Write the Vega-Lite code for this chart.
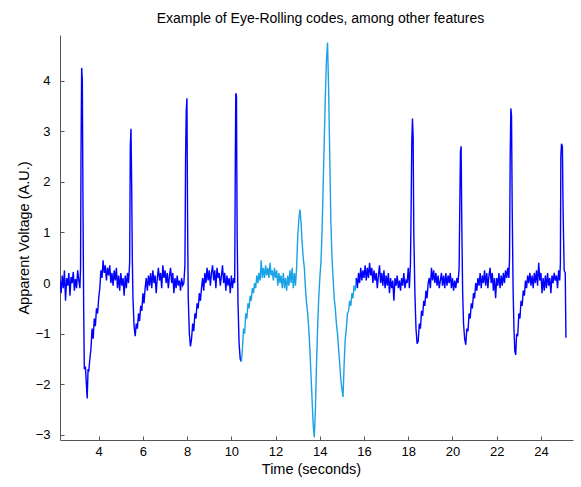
{
"$schema": "https://vega.github.io/schema/vega-lite/v6.json",
"width": 513, "height": 405,
"autosize": {"type": "none"},
"padding": {"left": 60, "top": 35, "right": 8, "bottom": 47},
"background": "white",
"title": {"text": "Example of Eye-Rolling codes, among other features", "fontSize": 14, "fontWeight": "normal", "font": "Liberation Sans", "color": "#000", "offset": 9, "dx": 4},
"config": {
"view": {"stroke": null},
"axis": {"grid": false, "domainColor": "#555", "tickColor": "#555", "tickSize": -4, "labelColor": "#000", "labelFont": "Liberation Sans", "labelFontSize": 13, "titleFont": "Liberation Sans", "titleFontSize": 14.5, "titleFontWeight": "normal", "titleColor": "#000"}
},
"data": {"values": [
{"t":2.25,"v":0.05,"s":"A"},{"t":2.3,"v":-0.2,"s":"A"},{"t":2.35,"v":0.15,"s":"A"},{"t":2.4,"v":-0.1,"s":"A"},{"t":2.45,"v":0.25,"s":"A"},{"t":2.5,"v":-0.35,"s":"A"},{"t":2.55,"v":0.1,"s":"A"},{"t":2.6,"v":-0.05,"s":"A"},{"t":2.65,"v":0.2,"s":"A"},{"t":2.7,"v":-0.25,"s":"A"},{"t":2.75,"v":0.12,"s":"A"},{"t":2.8,"v":0.0,"s":"A"},{"t":2.85,"v":0.22,"s":"A"},{"t":2.9,"v":-0.15,"s":"A"},{"t":2.95,"v":0.08,"s":"A"},{"t":3.0,"v":-0.1,"s":"A"},{"t":3.05,"v":0.25,"s":"A"},{"t":3.1,"v":0.05,"s":"A"},{"t":3.15,"v":-0.1,"s":"A"},{"t":3.18,"v":0.3,"s":"A"},{"t":3.2,"v":2.5,"s":"A"},{"t":3.23,"v":4.25,"s":"A"},{"t":3.26,"v":4.0,"s":"A"},{"t":3.29,"v":1.5,"s":"A"},{"t":3.32,"v":-0.45,"s":"A"},{"t":3.35,"v":-1.7,"s":"A"},{"t":3.4,"v":-1.65,"s":"A"},{"t":3.45,"v":-2.05,"s":"A"},{"t":3.48,"v":-2.28,"s":"A"},{"t":3.52,"v":-1.7,"s":"A"},{"t":3.55,"v":-1.75,"s":"A"},{"t":3.6,"v":-1.5,"s":"A"},{"t":3.65,"v":-1.3,"s":"A"},{"t":3.7,"v":-0.9,"s":"A"},{"t":3.75,"v":-1.1,"s":"A"},{"t":3.8,"v":-0.7,"s":"A"},{"t":3.85,"v":-0.85,"s":"A"},{"t":3.9,"v":-0.5,"s":"A"},{"t":3.95,"v":-0.6,"s":"A"},{"t":4.0,"v":-0.3,"s":"A"},{"t":4.05,"v":-0.1,"s":"A"},{"t":4.1,"v":0.25,"s":"A"},{"t":4.15,"v":0.1,"s":"A"},{"t":4.2,"v":0.45,"s":"A"},{"t":4.25,"v":0.2,"s":"A"},{"t":4.3,"v":0.35,"s":"A"},{"t":4.35,"v":0.05,"s":"A"},{"t":4.4,"v":0.3,"s":"A"},{"t":4.45,"v":0.15,"s":"A"},{"t":4.5,"v":0.35,"s":"A"},{"t":4.55,"v":0.0,"s":"A"},{"t":4.6,"v":0.2,"s":"A"},{"t":4.65,"v":-0.05,"s":"A"},{"t":4.7,"v":0.25,"s":"A"},{"t":4.75,"v":0.05,"s":"A"},{"t":4.8,"v":0.3,"s":"A"},{"t":4.85,"v":-0.1,"s":"A"},{"t":4.9,"v":0.15,"s":"A"},{"t":4.95,"v":-0.15,"s":"A"},{"t":5.0,"v":0.2,"s":"A"},{"t":5.05,"v":-0.05,"s":"A"},{"t":5.1,"v":0.1,"s":"A"},{"t":5.15,"v":-0.25,"s":"A"},{"t":5.2,"v":0.15,"s":"A"},{"t":5.25,"v":-0.1,"s":"A"},{"t":5.3,"v":0.2,"s":"A"},{"t":5.35,"v":0.0,"s":"A"},{"t":5.4,"v":0.4,"s":"A"},{"t":5.43,"v":2.7,"s":"A"},{"t":5.46,"v":3.05,"s":"A"},{"t":5.49,"v":2.0,"s":"A"},{"t":5.52,"v":0.5,"s":"A"},{"t":5.55,"v":-0.3,"s":"A"},{"t":5.6,"v":-0.85,"s":"A"},{"t":5.65,"v":-1.05,"s":"A"},{"t":5.7,"v":-0.8,"s":"A"},{"t":5.75,"v":-0.9,"s":"A"},{"t":5.8,"v":-0.6,"s":"A"},{"t":5.85,"v":-0.75,"s":"A"},{"t":5.9,"v":-0.45,"s":"A"},{"t":5.95,"v":-0.55,"s":"A"},{"t":6.0,"v":-0.2,"s":"A"},{"t":6.05,"v":-0.4,"s":"A"},{"t":6.1,"v":-0.1,"s":"A"},{"t":6.15,"v":0.1,"s":"A"},{"t":6.2,"v":-0.15,"s":"A"},{"t":6.25,"v":0.15,"s":"A"},{"t":6.3,"v":-0.05,"s":"A"},{"t":6.35,"v":0.2,"s":"A"},{"t":6.4,"v":-0.1,"s":"A"},{"t":6.45,"v":0.25,"s":"A"},{"t":6.5,"v":0.0,"s":"A"},{"t":6.55,"v":0.15,"s":"A"},{"t":6.6,"v":-0.2,"s":"A"},{"t":6.65,"v":0.1,"s":"A"},{"t":6.7,"v":0.3,"s":"A"},{"t":6.75,"v":0.05,"s":"A"},{"t":6.8,"v":0.2,"s":"A"},{"t":6.85,"v":-0.1,"s":"A"},{"t":6.9,"v":0.35,"s":"A"},{"t":6.95,"v":0.1,"s":"A"},{"t":7.0,"v":0.25,"s":"A"},{"t":7.05,"v":0.0,"s":"A"},{"t":7.1,"v":0.2,"s":"A"},{"t":7.15,"v":-0.1,"s":"A"},{"t":7.2,"v":0.15,"s":"A"},{"t":7.25,"v":0.3,"s":"A"},{"t":7.3,"v":0.0,"s":"A"},{"t":7.35,"v":0.2,"s":"A"},{"t":7.4,"v":-0.2,"s":"A"},{"t":7.45,"v":0.1,"s":"A"},{"t":7.5,"v":-0.1,"s":"A"},{"t":7.55,"v":0.15,"s":"A"},{"t":7.6,"v":-0.05,"s":"A"},{"t":7.65,"v":0.05,"s":"A"},{"t":7.7,"v":-0.15,"s":"A"},{"t":7.75,"v":0.1,"s":"A"},{"t":7.8,"v":-0.05,"s":"A"},{"t":7.85,"v":0.0,"s":"A"},{"t":7.9,"v":0.35,"s":"A"},{"t":7.93,"v":2.5,"s":"A"},{"t":7.96,"v":3.4,"s":"A"},{"t":7.99,"v":3.65,"s":"A"},{"t":8.02,"v":1.2,"s":"A"},{"t":8.05,"v":-0.3,"s":"A"},{"t":8.1,"v":-1.0,"s":"A"},{"t":8.15,"v":-1.25,"s":"A"},{"t":8.2,"v":-1.1,"s":"A"},{"t":8.25,"v":-0.8,"s":"A"},{"t":8.3,"v":-0.95,"s":"A"},{"t":8.35,"v":-0.6,"s":"A"},{"t":8.4,"v":-0.7,"s":"A"},{"t":8.45,"v":-0.4,"s":"A"},{"t":8.5,"v":-0.5,"s":"A"},{"t":8.55,"v":-0.2,"s":"A"},{"t":8.6,"v":-0.35,"s":"A"},{"t":8.65,"v":-0.1,"s":"A"},{"t":8.7,"v":0.1,"s":"A"},{"t":8.75,"v":-0.15,"s":"A"},{"t":8.8,"v":0.2,"s":"A"},{"t":8.85,"v":0.0,"s":"A"},{"t":8.9,"v":0.3,"s":"A"},{"t":8.95,"v":0.05,"s":"A"},{"t":9.0,"v":0.25,"s":"A"},{"t":9.05,"v":-0.05,"s":"A"},{"t":9.1,"v":0.2,"s":"A"},{"t":9.15,"v":0.35,"s":"A"},{"t":9.2,"v":0.05,"s":"A"},{"t":9.25,"v":0.25,"s":"A"},{"t":9.3,"v":-0.1,"s":"A"},{"t":9.35,"v":0.3,"s":"A"},{"t":9.4,"v":0.1,"s":"A"},{"t":9.45,"v":0.2,"s":"A"},{"t":9.5,"v":-0.05,"s":"A"},{"t":9.55,"v":0.15,"s":"A"},{"t":9.6,"v":0.35,"s":"A"},{"t":9.65,"v":0.0,"s":"A"},{"t":9.7,"v":0.2,"s":"A"},{"t":9.75,"v":-0.15,"s":"A"},{"t":9.8,"v":0.15,"s":"A"},{"t":9.85,"v":-0.05,"s":"A"},{"t":9.9,"v":0.1,"s":"A"},{"t":9.95,"v":-0.2,"s":"A"},{"t":10.0,"v":0.15,"s":"A"},{"t":10.05,"v":-0.1,"s":"A"},{"t":10.1,"v":0.1,"s":"A"},{"t":10.15,"v":0.0,"s":"A"},{"t":10.18,"v":2.5,"s":"A"},{"t":10.2,"v":3.75,"s":"A"},{"t":10.23,"v":3.7,"s":"A"},{"t":10.26,"v":1.0,"s":"A"},{"t":10.3,"v":-0.4,"s":"A"},{"t":10.35,"v":-1.2,"s":"A"},{"t":10.4,"v":-1.5,"s":"A"},{"t":10.45,"v":-1.55,"s":"A"},
{"t":10.45,"v":-1.55,"s":"B"},{"t":10.5,"v":-1.3,"s":"B"},{"t":10.55,"v":-0.9,"s":"B"},{"t":10.6,"v":-1.0,"s":"B"},{"t":10.65,"v":-0.6,"s":"B"},{"t":10.7,"v":-0.7,"s":"B"},{"t":10.75,"v":-0.4,"s":"B"},{"t":10.8,"v":-0.5,"s":"B"},{"t":10.85,"v":-0.25,"s":"B"},{"t":10.9,"v":-0.35,"s":"B"},{"t":10.95,"v":-0.1,"s":"B"},{"t":11.0,"v":-0.2,"s":"B"},{"t":11.05,"v":0.0,"s":"B"},{"t":11.1,"v":-0.1,"s":"B"},{"t":11.15,"v":0.15,"s":"B"},{"t":11.2,"v":0.0,"s":"B"},{"t":11.25,"v":0.2,"s":"B"},{"t":11.3,"v":0.05,"s":"B"},{"t":11.35,"v":0.45,"s":"B"},{"t":11.4,"v":0.1,"s":"B"},{"t":11.45,"v":0.3,"s":"B"},{"t":11.5,"v":0.1,"s":"B"},{"t":11.55,"v":0.35,"s":"B"},{"t":11.6,"v":0.15,"s":"B"},{"t":11.65,"v":0.3,"s":"B"},{"t":11.7,"v":0.1,"s":"B"},{"t":11.75,"v":0.4,"s":"B"},{"t":11.8,"v":0.15,"s":"B"},{"t":11.85,"v":0.25,"s":"B"},{"t":11.9,"v":0.05,"s":"B"},{"t":11.95,"v":0.3,"s":"B"},{"t":12.0,"v":0.1,"s":"B"},{"t":12.05,"v":0.25,"s":"B"},{"t":12.1,"v":-0.05,"s":"B"},{"t":12.15,"v":0.2,"s":"B"},{"t":12.2,"v":0.0,"s":"B"},{"t":12.25,"v":0.15,"s":"B"},{"t":12.3,"v":-0.1,"s":"B"},{"t":12.35,"v":0.2,"s":"B"},{"t":12.4,"v":-0.1,"s":"B"},{"t":12.45,"v":0.1,"s":"B"},{"t":12.5,"v":-0.15,"s":"B"},{"t":12.55,"v":0.15,"s":"B"},{"t":12.6,"v":-0.05,"s":"B"},{"t":12.65,"v":0.25,"s":"B"},{"t":12.7,"v":0.0,"s":"B"},{"t":12.75,"v":0.3,"s":"B"},{"t":12.8,"v":-0.1,"s":"B"},{"t":12.85,"v":0.2,"s":"B"},{"t":12.9,"v":-0.05,"s":"B"},{"t":12.95,"v":0.3,"s":"B"},{"t":13.0,"v":0.9,"s":"B"},{"t":13.05,"v":1.25,"s":"B"},{"t":13.1,"v":1.45,"s":"B"},{"t":13.15,"v":1.2,"s":"B"},{"t":13.2,"v":0.8,"s":"B"},{"t":13.25,"v":0.5,"s":"B"},{"t":13.3,"v":0.3,"s":"B"},{"t":13.35,"v":-0.1,"s":"B"},{"t":13.4,"v":-0.4,"s":"B"},{"t":13.45,"v":-0.6,"s":"B"},{"t":13.5,"v":-0.9,"s":"B"},{"t":13.55,"v":-1.3,"s":"B"},{"t":13.6,"v":-1.8,"s":"B"},{"t":13.65,"v":-2.3,"s":"B"},{"t":13.7,"v":-2.8,"s":"B"},{"t":13.75,"v":-3.05,"s":"B"},{"t":13.8,"v":-2.5,"s":"B"},{"t":13.85,"v":-1.6,"s":"B"},{"t":13.9,"v":-0.9,"s":"B"},{"t":13.95,"v":-0.3,"s":"B"},{"t":14.0,"v":0.1,"s":"B"},{"t":14.05,"v":0.4,"s":"B"},{"t":14.1,"v":1.0,"s":"B"},{"t":14.15,"v":1.9,"s":"B"},{"t":14.2,"v":2.8,"s":"B"},{"t":14.25,"v":3.7,"s":"B"},{"t":14.3,"v":4.4,"s":"B"},{"t":14.35,"v":4.75,"s":"B"},{"t":14.4,"v":3.8,"s":"B"},{"t":14.45,"v":2.5,"s":"B"},{"t":14.5,"v":1.2,"s":"B"},{"t":14.55,"v":0.5,"s":"B"},{"t":14.6,"v":0.1,"s":"B"},{"t":14.65,"v":-0.3,"s":"B"},{"t":14.7,"v":-0.5,"s":"B"},{"t":14.75,"v":-0.8,"s":"B"},{"t":14.8,"v":-1.0,"s":"B"},{"t":14.85,"v":-1.3,"s":"B"},{"t":14.9,"v":-1.6,"s":"B"},{"t":14.95,"v":-1.9,"s":"B"},{"t":15.0,"v":-2.1,"s":"B"},{"t":15.05,"v":-2.25,"s":"B"},{"t":15.1,"v":-1.6,"s":"B"},{"t":15.15,"v":-1.1,"s":"B"},{"t":15.2,"v":-0.9,"s":"B"},{"t":15.25,"v":-0.6,"s":"B"},{"t":15.3,"v":-0.55,"s":"B"},{"t":15.35,"v":-0.35,"s":"B"},{"t":15.4,"v":-0.45,"s":"B"},{"t":15.45,"v":-0.2,"s":"B"},{"t":15.5,"v":-0.3,"s":"B"},{"t":15.55,"v":-0.05,"s":"B"},{"t":15.6,"v":-0.15,"s":"B"},{"t":15.65,"v":0.1,"s":"B"},
{"t":15.65,"v":0.1,"s":"C"},{"t":15.7,"v":-0.1,"s":"C"},{"t":15.75,"v":0.2,"s":"C"},{"t":15.8,"v":0.0,"s":"C"},{"t":15.85,"v":0.3,"s":"C"},{"t":15.9,"v":0.05,"s":"C"},{"t":15.95,"v":0.25,"s":"C"},{"t":16.0,"v":0.1,"s":"C"},{"t":16.05,"v":0.35,"s":"C"},{"t":16.1,"v":0.05,"s":"C"},{"t":16.15,"v":0.3,"s":"C"},{"t":16.2,"v":0.1,"s":"C"},{"t":16.25,"v":0.4,"s":"C"},{"t":16.3,"v":0.15,"s":"C"},{"t":16.35,"v":0.3,"s":"C"},{"t":16.4,"v":0.0,"s":"C"},{"t":16.45,"v":0.25,"s":"C"},{"t":16.5,"v":0.05,"s":"C"},{"t":16.55,"v":0.2,"s":"C"},{"t":16.6,"v":-0.1,"s":"C"},{"t":16.65,"v":0.15,"s":"C"},{"t":16.7,"v":0.35,"s":"C"},{"t":16.75,"v":0.0,"s":"C"},{"t":16.8,"v":0.2,"s":"C"},{"t":16.85,"v":-0.05,"s":"C"},{"t":16.9,"v":0.25,"s":"C"},{"t":16.95,"v":-0.1,"s":"C"},{"t":17.0,"v":0.15,"s":"C"},{"t":17.05,"v":-0.05,"s":"C"},{"t":17.1,"v":0.2,"s":"C"},{"t":17.15,"v":-0.2,"s":"C"},{"t":17.2,"v":0.1,"s":"C"},{"t":17.25,"v":-0.1,"s":"C"},{"t":17.3,"v":0.05,"s":"C"},{"t":17.35,"v":-0.35,"s":"C"},{"t":17.4,"v":0.1,"s":"C"},{"t":17.45,"v":-0.05,"s":"C"},{"t":17.5,"v":0.15,"s":"C"},{"t":17.55,"v":-0.1,"s":"C"},{"t":17.6,"v":0.05,"s":"C"},{"t":17.65,"v":-0.15,"s":"C"},{"t":17.7,"v":0.1,"s":"C"},{"t":17.75,"v":-0.05,"s":"C"},{"t":17.8,"v":0.2,"s":"C"},{"t":17.85,"v":-0.1,"s":"C"},{"t":17.9,"v":0.05,"s":"C"},{"t":17.95,"v":0.0,"s":"C"},{"t":18.0,"v":0.3,"s":"C"},{"t":18.05,"v":-0.1,"s":"C"},{"t":18.1,"v":0.4,"s":"C"},{"t":18.13,"v":1.5,"s":"C"},{"t":18.16,"v":2.8,"s":"C"},{"t":18.19,"v":3.25,"s":"C"},{"t":18.22,"v":2.9,"s":"C"},{"t":18.25,"v":1.0,"s":"C"},{"t":18.3,"v":-0.2,"s":"C"},{"t":18.35,"v":-0.9,"s":"C"},{"t":18.4,"v":-1.2,"s":"C"},{"t":18.45,"v":-1.15,"s":"C"},{"t":18.5,"v":-0.8,"s":"C"},{"t":18.55,"v":-0.9,"s":"C"},{"t":18.6,"v":-0.55,"s":"C"},{"t":18.65,"v":-0.65,"s":"C"},{"t":18.7,"v":-0.35,"s":"C"},{"t":18.75,"v":-0.45,"s":"C"},{"t":18.8,"v":-0.15,"s":"C"},{"t":18.85,"v":-0.3,"s":"C"},{"t":18.9,"v":0.0,"s":"C"},{"t":18.95,"v":0.1,"s":"C"},{"t":19.0,"v":-0.1,"s":"C"},{"t":19.05,"v":0.3,"s":"C"},{"t":19.1,"v":0.05,"s":"C"},{"t":19.15,"v":0.25,"s":"C"},{"t":19.2,"v":0.0,"s":"C"},{"t":19.25,"v":0.2,"s":"C"},{"t":19.3,"v":-0.05,"s":"C"},{"t":19.35,"v":0.15,"s":"C"},{"t":19.4,"v":-0.1,"s":"C"},{"t":19.45,"v":0.05,"s":"C"},{"t":19.5,"v":0.2,"s":"C"},{"t":19.55,"v":-0.05,"s":"C"},{"t":19.6,"v":0.15,"s":"C"},{"t":19.65,"v":-0.1,"s":"C"},{"t":19.7,"v":0.2,"s":"C"},{"t":19.75,"v":-0.05,"s":"C"},{"t":19.8,"v":0.15,"s":"C"},{"t":19.85,"v":0.0,"s":"C"},{"t":19.9,"v":0.2,"s":"C"},{"t":19.95,"v":-0.1,"s":"C"},{"t":20.0,"v":0.1,"s":"C"},{"t":20.05,"v":-0.15,"s":"C"},{"t":20.1,"v":0.05,"s":"C"},{"t":20.15,"v":-0.1,"s":"C"},{"t":20.2,"v":0.1,"s":"C"},{"t":20.25,"v":0.0,"s":"C"},{"t":20.3,"v":0.3,"s":"C"},{"t":20.33,"v":1.5,"s":"C"},{"t":20.36,"v":2.6,"s":"C"},{"t":20.39,"v":2.7,"s":"C"},{"t":20.42,"v":1.2,"s":"C"},{"t":20.46,"v":-0.2,"s":"C"},{"t":20.5,"v":-0.8,"s":"C"},{"t":20.55,"v":-1.1,"s":"C"},{"t":20.6,"v":-1.22,"s":"C"},{"t":20.65,"v":-0.9,"s":"C"},{"t":20.7,"v":-0.95,"s":"C"},{"t":20.75,"v":-0.6,"s":"C"},{"t":20.8,"v":-0.7,"s":"C"},{"t":20.85,"v":-0.4,"s":"C"},{"t":20.9,"v":-0.5,"s":"C"},{"t":20.95,"v":-0.2,"s":"C"},{"t":21.0,"v":-0.3,"s":"C"},{"t":21.05,"v":0.0,"s":"C"},{"t":21.1,"v":-0.15,"s":"C"},{"t":21.15,"v":0.1,"s":"C"},{"t":21.2,"v":-0.05,"s":"C"},{"t":21.25,"v":0.2,"s":"C"},{"t":21.3,"v":-0.1,"s":"C"},{"t":21.35,"v":0.15,"s":"C"},{"t":21.4,"v":0.0,"s":"C"},{"t":21.45,"v":0.25,"s":"C"},{"t":21.5,"v":-0.05,"s":"C"},{"t":21.55,"v":0.2,"s":"C"},{"t":21.6,"v":-0.1,"s":"C"},{"t":21.65,"v":0.15,"s":"C"},{"t":21.7,"v":0.3,"s":"C"},{"t":21.75,"v":0.0,"s":"C"},{"t":21.8,"v":0.2,"s":"C"},{"t":21.85,"v":-0.15,"s":"C"},{"t":21.9,"v":0.1,"s":"C"},{"t":21.95,"v":-0.3,"s":"C"},{"t":22.0,"v":0.1,"s":"C"},{"t":22.05,"v":-0.05,"s":"C"},{"t":22.1,"v":0.2,"s":"C"},{"t":22.15,"v":-0.1,"s":"C"},{"t":22.2,"v":0.15,"s":"C"},{"t":22.25,"v":-0.05,"s":"C"},{"t":22.3,"v":0.2,"s":"C"},{"t":22.35,"v":0.0,"s":"C"},{"t":22.4,"v":0.25,"s":"C"},{"t":22.45,"v":0.1,"s":"C"},{"t":22.5,"v":0.3,"s":"C"},{"t":22.55,"v":0.1,"s":"C"},{"t":22.58,"v":0.5,"s":"C"},{"t":22.61,"v":2.5,"s":"C"},{"t":22.64,"v":3.45,"s":"C"},{"t":22.67,"v":3.3,"s":"C"},{"t":22.7,"v":1.5,"s":"C"},{"t":22.74,"v":-0.1,"s":"C"},{"t":22.78,"v":-0.9,"s":"C"},{"t":22.82,"v":-1.35,"s":"C"},{"t":22.86,"v":-1.42,"s":"C"},{"t":22.9,"v":-1.0,"s":"C"},{"t":22.95,"v":-1.05,"s":"C"},{"t":23.0,"v":-0.6,"s":"C"},{"t":23.05,"v":-0.7,"s":"C"},{"t":23.1,"v":-0.35,"s":"C"},{"t":23.15,"v":-0.45,"s":"C"},{"t":23.2,"v":-0.15,"s":"C"},{"t":23.25,"v":-0.25,"s":"C"},{"t":23.3,"v":0.05,"s":"C"},{"t":23.35,"v":-0.1,"s":"C"},{"t":23.4,"v":0.15,"s":"C"},{"t":23.45,"v":0.0,"s":"C"},{"t":23.5,"v":0.2,"s":"C"},{"t":23.55,"v":-0.05,"s":"C"},{"t":23.6,"v":0.15,"s":"C"},{"t":23.65,"v":-0.1,"s":"C"},{"t":23.7,"v":0.2,"s":"C"},{"t":23.75,"v":0.0,"s":"C"},{"t":23.8,"v":0.25,"s":"C"},{"t":23.85,"v":-0.05,"s":"C"},{"t":23.9,"v":0.4,"s":"C"},{"t":23.95,"v":0.05,"s":"C"},{"t":24.0,"v":0.2,"s":"C"},{"t":24.05,"v":-0.2,"s":"C"},{"t":24.1,"v":0.1,"s":"C"},{"t":24.15,"v":-0.15,"s":"C"},{"t":24.2,"v":0.15,"s":"C"},{"t":24.25,"v":-0.1,"s":"C"},{"t":24.3,"v":0.2,"s":"C"},{"t":24.35,"v":-0.05,"s":"C"},{"t":24.4,"v":0.1,"s":"C"},{"t":24.45,"v":-0.2,"s":"C"},{"t":24.5,"v":0.15,"s":"C"},{"t":24.55,"v":0.0,"s":"C"},{"t":24.6,"v":0.2,"s":"C"},{"t":24.65,"v":0.05,"s":"C"},{"t":24.7,"v":0.15,"s":"C"},{"t":24.75,"v":-0.1,"s":"C"},{"t":24.8,"v":0.25,"s":"C"},{"t":24.85,"v":0.05,"s":"C"},{"t":24.88,"v":0.4,"s":"C"},{"t":24.9,"v":2.5,"s":"C"},{"t":24.93,"v":2.75,"s":"C"},{"t":24.97,"v":2.7,"s":"C"},{"t":25.0,"v":1.5,"s":"C"},{"t":25.05,"v":0.25,"s":"C"},{"t":25.1,"v":0.2,"s":"C"},{"t":25.13,"v":-1.08,"s":"C"}
]},
"mark": {"type": "line", "strokeWidth": 1.4, "clip": true},
"encoding": {
"x": {"field": "t", "type": "quantitative", "scale": {"domain": [2.25, 25.45], "nice": false, "zero": false}, "axis": {"values": [4,6,8,10,12,14,16,18,20,22,24], "title": "Time (seconds)", "labelPadding": 9, "titlePadding": 4, "titleX": 251}},
"y": {"field": "v", "type": "quantitative", "scale": {"domain": [-3.1, 4.9], "nice": false, "zero": false}, "axis": {"values": [-3,-2,-1,0,1,2,3,4], "title": "Apparent Voltage (A.U.)", "labelPadding": 14, "titlePadding": 4}},
"color": {"field": "s", "type": "nominal", "scale": {"domain": ["A","B","C"], "range": ["#0000ff","#19a2e6","#0000ff"]}, "legend": null},
"order": {"field": "t", "type": "quantitative"}
}
}
